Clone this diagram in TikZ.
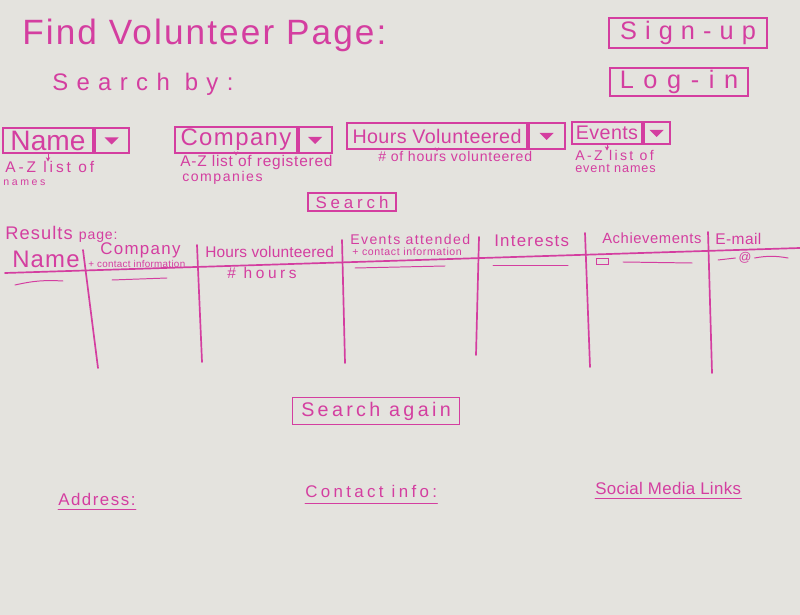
\documentclass[tikz,border=0pt]{standalone}
\usepackage{fontspec}
\setmainfont{Liberation Sans}
\usetikzlibrary{positioning,calc,arrows.meta}
\definecolor{Ink}{RGB}{212,62,160}
\definecolor{Paper}{RGB}{228,227,222}
% size / letter spacing
\newcommand{\hw}[2]{\addfontfeature{LetterSpace=#2}\fontsize{#1pt}{#1pt}\selectfont}
\tikzset{
  box/.style={draw=Ink, line width=1.2pt, inner sep=0pt, text=Ink},
  txt/.style={text=Ink, inner sep=0pt, anchor=base west},
  pen/.style={draw=Ink, line width=1.2pt, line cap=round},
  thinpen/.style={draw=Ink, line width=0.7pt, line cap=round},
  tip/.style={draw=Ink, line width=0.6pt, -{Stealth[length=3pt,width=3pt]}}
}
\begin{document}
\begin{tikzpicture}[x=0.025cm, y=-0.025cm]
\fill[Paper] (0,0) rectangle (800,615);
\useasboundingbox (0,0) rectangle (800,615);

% header
\node[txt] (title) at (22,45) {\hw{25}{6}Find Volunteer Page:};
\node[txt] (searchby) at (52,91) {\hw{17}{35}Search by:};
\node[box, minimum width=3.95cm, minimum height=0.75cm] (signup) at (688,33) {\hw{18}{32}Sign-up};
\node[box, minimum width=3.45cm, minimum height=0.7cm] (login) at (679,82) {\hw{18}{38}Log-in};

% drop-down menus
\node[box, minimum width=2.25cm, minimum height=0.625cm] (nameF) at (48,140.5) {\hw{20}{0}Name};
\node[box, minimum width=0.85cm, minimum height=0.625cm, right=0pt of nameF] (nameA) {};
\node[box, minimum width=3.05cm, minimum height=0.65cm] (compF) at (236,140) {\hw{17}{6}Company};
\node[box, minimum width=0.825cm, minimum height=0.65cm, right=0pt of compF] (compA) {};
\node[box, minimum width=4.5cm, minimum height=0.65cm] (hoursF) at (437,136) {\hw{14}{2}Hours Volunteered};
\node[box, minimum width=0.9cm, minimum height=0.65cm, right=0pt of hoursF] (hoursA) {};
\node[box, minimum width=1.75cm, minimum height=0.55cm] (eventsF) at (607,133) {\hw{14}{2}Events};
\node[box, minimum width=0.65cm, minimum height=0.55cm, right=0pt of eventsF] (eventsA) {};
\foreach \c in {nameA,compA,hoursA,eventsA}
  \fill[Ink] ($(\c.center)+(-7,-3)$) -- ($(\c.center)+(7,-3)$) -- ($(\c.center)+(0,4)$) -- cycle;

% notes under the menus
\node[txt] (nameN) at (5,173) {\hw{11}{19}A-Z list of};
\node[txt] (nameM) at (3,186) {\hw{7.5}{25}names};
\node[txt] (compN) at (180,167) {\hw{11}{5}A-Z list of registered};
\node[txt] (compM) at (182,182) {\hw{10}{11}companies};
\node[txt] (hoursN) at (378,162) {\hw{10}{5.5}\# of hours volunteered};
\node[txt] (eventsN) at (575,161) {\hw{10}{17}A-Z list of};
\node[txt] (eventsM) at (575,173) {\hw{9}{7}event names};
\draw[tip] (nameF.south) -- (nameF.south |- nameN.north);
\draw[tip] (compF.south) -- (compF.south |- compN.north);
\draw[tip] (hoursF.south) -- (hoursF.south |- hoursN.north);
\draw[tip] (eventsF.south) -- (eventsF.south |- eventsN.north);

\node[box, minimum width=2.2cm, minimum height=0.45cm] (search) at (352,202) {\hw{12}{23}Search};

% results table
\node[txt] (results) at (5,240) {\hw{13}{6}Results \hw{10}{6}page:};
\coordinate (hl) at (5,273);
\coordinate (hr) at (800,248);
\draw[pen] (hl) -- (hr);
\foreach \tx/\ty/\bx/\by in {83/250/98/368, 197/245/202/362, 342/240/345/363, 479/237/476/355, 585/233/590/367, 708/232/712/373}
  \draw[pen] (\tx,\ty) -- (\bx,\by);

\node[txt] (hName) at (12,268) {\hw{17}{5}Name};
\node[txt] (hComp) at (100,255) {\hw{12}{8}Company};
\node[txt] (hCompSub) at (88,268) {\hw{7}{3}+ contact information};
\node[txt] (hHours) at (205,258) {\hw{11}{1}Hours volunteered};
\node[txt] (hEvents) at (350,245) {\hw{10}{10}Events attended};
\node[txt] (hEventsSub) at (352,256) {\hw{7.5}{6}+ contact information};
\node[txt] (hInt) at (494,247) {\hw{12}{7.5}Interests};
\node[txt] (hAch) at (602,244) {\hw{10.5}{4}Achievements};
\node[txt] (hMail) at (715,245) {\hw{11}{3}E-mail};

% first row
\draw[thinpen] (15,285) to[bend left=8] (63,281);
\draw[thinpen] (112,280) -- (167,278);
\node[txt] (rHours) at (227,279) {\hw{11}{23}\# hours};
\draw[thinpen] (355,268) -- (445,266);
\draw[thinpen] (493,265) -- (568,265);
\node[draw=Ink, line width=0.7pt, minimum width=0.3cm, minimum height=0.15cm, inner sep=0pt] (rBox) at (602,261) {};
\draw[thinpen] (623,262) -- (692,263);
\node[text=Ink, inner sep=0pt] (rAt) at (745,258) {\hw{9}{0}@};
\coordinate (m1) at (718,260);
\coordinate (m2) at (788,258);
\draw[thinpen] (m1) -- ([xshift=-2pt]rAt.west);
\draw[thinpen] ([xshift=2pt]rAt.east) to[bend left=10] (m2);

\node[box, minimum width=4.18cm, minimum height=0.68cm] (again) at (376,411) {\hw{14}{17}Search again};

% footer
\node[txt] (addr) at (58,505) {\hw{12}{9}Address:};
\node[txt] (contact) at (305,497) {\hw{12}{20}Contact info:};
\node[txt] (social) at (595,494) {\hw{12}{2}Social Media Links};
\draw[thinpen] ([yshift=-3pt]addr.south west) -- ([yshift=-3pt]addr.south east);
\draw[thinpen] ([yshift=-4pt]contact.south west) -- ([yshift=-4pt]contact.south east);
\draw[thinpen] ([yshift=-3pt]social.south west) -- ([yshift=-3pt]social.south east);
\end{tikzpicture}
\end{document}
